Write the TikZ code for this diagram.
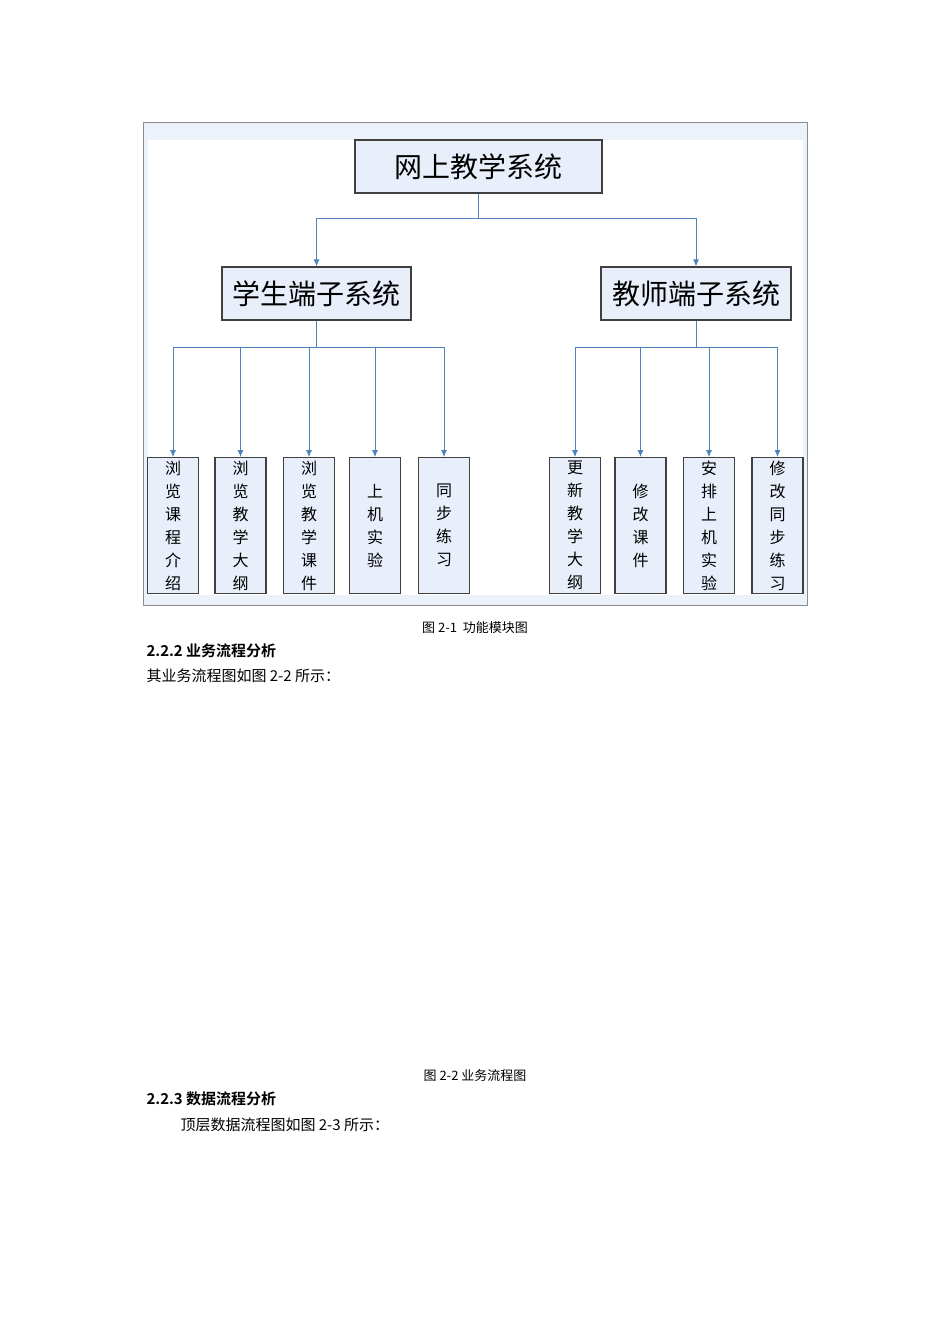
\documentclass[tikz,border=0pt]{standalone}
\usepackage{fontspec}
\setmainfont{Liberation Serif}
\newfontfamily\cjk{Noto Sans CJK SC}
\newfontfamily\cjkb{Noto Sans CJK SC Bold}
\usetikzlibrary{arrows.meta}
\definecolor{boxfill}{RGB}{232,238,250}
\definecolor{linec}{RGB}{79,129,189}
\definecolor{band}{RGB}{236,242,250}
\begin{document}
\begin{tikzpicture}[x=1pt,y=-1pt,
  box/.style={draw=black!75,line width=1.2pt,fill=boxfill,inner sep=0pt},
  conn/.style={draw=linec,line width=0.9pt},
  arr/.style={conn,-{Latex[length=7pt,width=6pt]}},
  leaf/.style={box,minimum width=51pt,minimum height=136pt,font=\cjk\fontsize{16}{23}\selectfont,align=center,anchor=north},
  captext/.style={font=\cjk\fontsize{13}{15}\selectfont,anchor=west}]
\useasboundingbox[fill=white] (0,0) rectangle (950,1344);
% frame
\fill[band] (143,122) rectangle (807,605);
\fill[white] (148,140) rectangle (803,595);
\draw[black!45,line width=0.8pt] (143,122) rectangle (807,605);
% boxes
\node[box,minimum width=247pt,minimum height=53pt,font=\cjk\fontsize{28}{30}\selectfont] (root) at (478.5,166.5) {网上教学系统};
\node[box,minimum width=189pt,minimum height=53pt,font=\cjk\fontsize{28}{30}\selectfont] (stu) at (316.5,293.5) {学生端子系统};
\node[box,minimum width=190pt,minimum height=53pt,font=\cjk\fontsize{28}{30}\selectfont] (tea) at (696,293.5) {教师端子系统};
\node[leaf] (s1) at (173,457) {浏\\览\\课\\程\\介\\绍};
\node[leaf] (s2) at (240.5,457) {浏\\览\\教\\学\\大\\纲};
\node[leaf] (s3) at (309,457) {浏\\览\\教\\学\\课\\件};
\node[leaf] (s4) at (375,457) {上\\机\\实\\验};
\node[leaf] (s5) at (444,457) {同\\步\\练\\习};
\node[leaf] (t1) at (575,457) {更\\新\\教\\学\\大\\纲};
\node[leaf] (t2) at (640.5,457) {修\\改\\课\\件};
\node[leaf] (t3) at (709,457) {安\\排\\上\\机\\实\\验};
\node[leaf] (t4) at (777.5,457) {修\\改\\同\\步\\练\\习};
% connectors
\coordinate (rb) at (478.5,218);
\draw[conn] (root.south) -- (rb);
\draw[arr] (rb) -| (stu.north);
\draw[arr] (rb) -| (tea.north);
\coordinate (sb) at (316.5,347);
\coordinate (tb) at (696,347);
\draw[conn] (stu.south) -- (sb);
\draw[conn] (tea.south) -- (tb);
\foreach \n in {s1,s2,s3,s4,s5} \draw[arr] (sb) -| (\n.north);
\foreach \n in {t1,t2,t3,t4} \draw[arr] (tb) -| (\n.north);
% texts
\node[captext,anchor=center] (c1) at (475,628) {图 2-1\ \ 功能模块图};
\node[captext,font=\cjkb\fontsize{15}{17}\selectfont] (h1) at (143,651) {2.2.2 业务流程分析};
\node[captext,font=\cjk\fontsize{15}{17}\selectfont] (p1) at (143,676) {其业务流程图如图 2-2 所示：};
\node[captext,anchor=center] (c2) at (475,1076) {图 2-2 业务流程图};
\node[captext,font=\cjkb\fontsize{15}{17}\selectfont] (h2) at (143,1099) {2.2.3 数据流程分析};
\node[captext,font=\cjk\fontsize{15}{17}\selectfont] (p2) at (177,1125) {顶层数据流程图如图 2-3 所示：};
\end{tikzpicture}
\end{document}
